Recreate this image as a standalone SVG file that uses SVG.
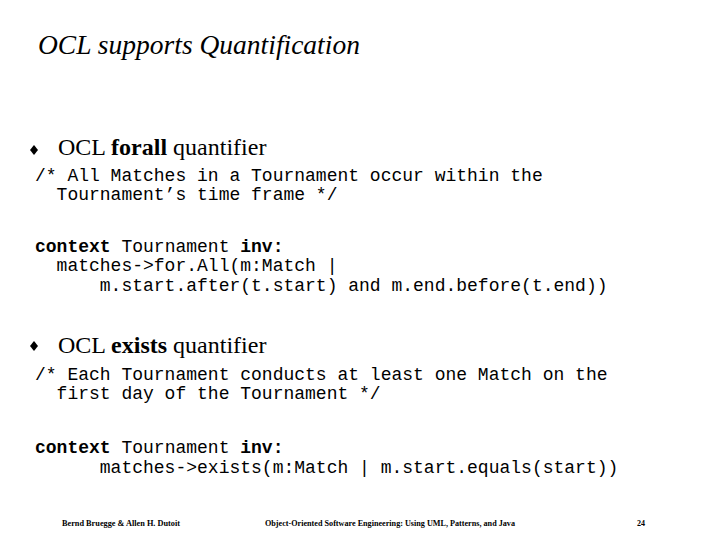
<svg xmlns="http://www.w3.org/2000/svg" width="720" height="540" viewBox="0 0 720 540">
<style>
.t{font-family:"Liberation Serif",serif;fill:#000}
.m{font-family:"Liberation Mono",monospace;font-size:18px;fill:#000;white-space:pre}
.f{font-family:"Liberation Serif",serif;font-size:8px;font-weight:bold;fill:#000}
</style>
<rect width="720" height="540" fill="#fff"/>
<text class="t" x="38" y="54" font-size="27.5" font-style="italic">OCL supports Quantification</text>
<g id="b1">
<path d="M34 145 L38 150 L34 155 L30 150Z" fill="#000"/>
<text class="t" x="58" y="155" font-size="24">OCL <tspan font-weight="bold">forall</tspan> quantifier</text>
</g>
<text class="m" x="35" y="181">/* All Matches in a Tournament occur within the</text>
<text class="m" x="35" y="200">  Tournament’s time frame */</text>
<text class="m" x="35" y="252"><tspan font-weight="bold">context</tspan> Tournament <tspan font-weight="bold">inv:</tspan></text>
<text class="m" x="35" y="271">  matches-&gt;for.All(m:Match |</text>
<text class="m" x="35" y="291">      m.start.after(t.start) and m.end.before(t.end))</text>
<g id="b2">
<path d="M34 341 L38 346 L34 351 L30 346Z" fill="#000"/>
<text class="t" x="58" y="353" font-size="24">OCL <tspan font-weight="bold">exists</tspan> quantifier</text>
</g>
<text class="m" x="35" y="380">/* Each Tournament conducts at least one Match on the</text>
<text class="m" x="35" y="399">  first day of the Tournament */</text>
<text class="m" x="35" y="453"><tspan font-weight="bold">context</tspan> Tournament <tspan font-weight="bold">inv:</tspan></text>
<text class="m" x="35" y="473">      matches-&gt;exists(m:Match | m.start.equals(start))</text>
<text class="f" x="62" y="526" textLength="118" lengthAdjust="spacingAndGlyphs">Bernd Bruegge &amp; Allen H. Dutoit</text>
<text class="f" x="265" y="526" textLength="250" lengthAdjust="spacingAndGlyphs">Object-Oriented Software Engineering: Using UML, Patterns, and Java</text>
<text class="f" x="637" y="526">24</text>
</svg>
